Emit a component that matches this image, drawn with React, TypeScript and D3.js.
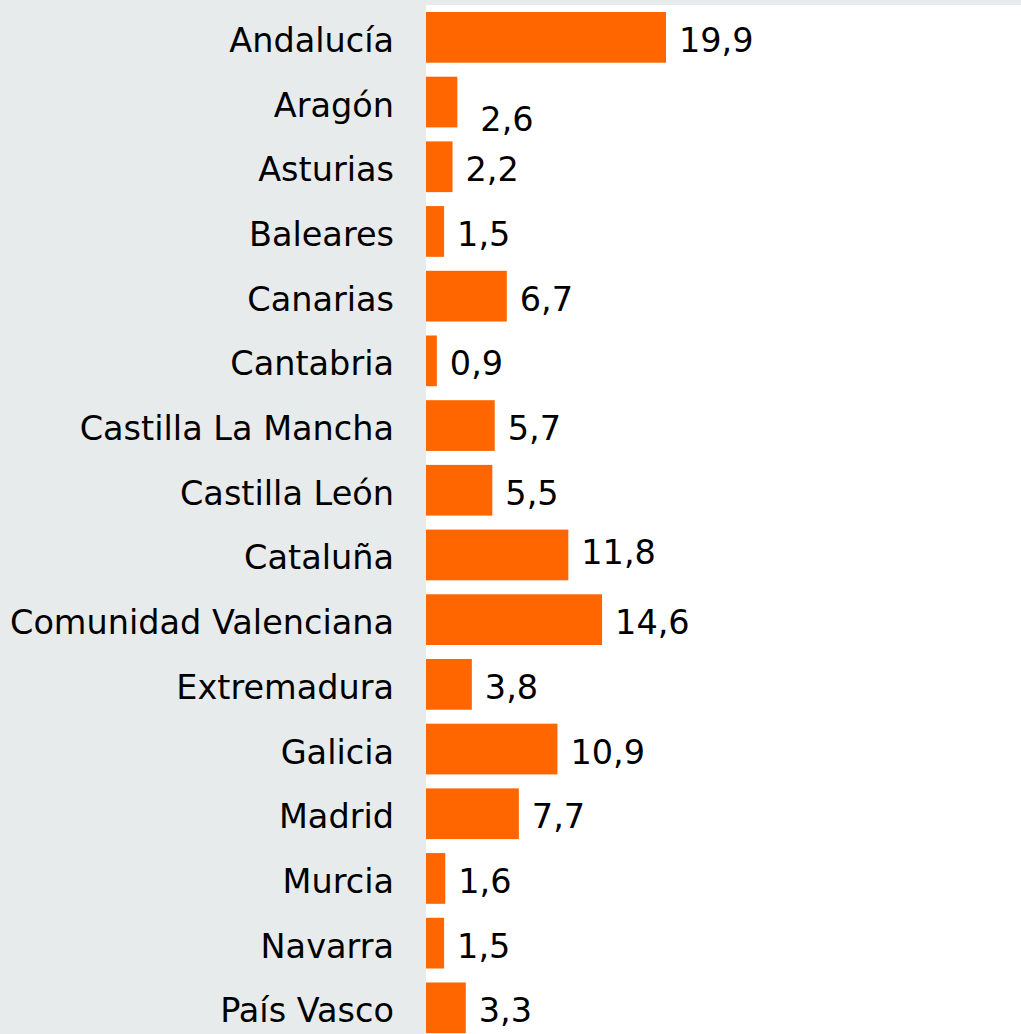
import React from 'react';
import * as d3 from 'd3';

const regions = [
  'Andalucía', 'Aragón', 'Asturias', 'Baleares', 'Canarias', 'Cantabria',
  'Castilla La Mancha', 'Castilla León', 'Cataluña', 'Comunidad Valenciana',
  'Extremadura', 'Galicia', 'Madrid', 'Murcia', 'Navarra', 'País Vasco',
];
const shares = [19.9, 2.6, 2.2, 1.5, 6.7, 0.9, 5.7, 5.5, 11.8, 14.6, 3.8, 10.9, 7.7, 1.6, 1.5, 3.3];

// the source chart nudges a couple of value labels off their bar
const labelNudge: Record<string, [number, number]> = {
  'Aragón': [10, 14],
  'Cataluña': [0, -5],
};

const W = 1021;
const H = 1034;
const plotLeft = 426;
const font = '"DejaVu Sans", Verdana, sans-serif';

export default function App() {
  const x = d3.scaleLinear().domain([0, 20]).range([plotLeft, plotLeft + 241.2]);
  const y = d3.scaleBand<string>()
    .domain(regions)
    .range([12, 1033.2])
    .paddingInner(0.216)
    .paddingOuter(0);
  const fmt = (v: number) => v.toFixed(1).replace('.', ',');

  return (
    <svg width={W} height={H} style={{ position: 'absolute', left: 0, top: 0 }}
      fontFamily={font}>
      <rect x={0} y={0} width={W} height={H} fill="#e8ebeb" />
      <rect x={plotLeft} y={5} width={W - plotLeft} height={H - 5} fill="#ffffff" />
      {regions.map((r, i) => {
        const cy = (y(r) as number) + y.bandwidth() / 2;
        const [dx, dy] = labelNudge[r] || [0, 0];
        return (
          <g key={r}>
            <text x={394} y={cy + 3} textAnchor="end" dominantBaseline="central"
              fontSize={33.5} fill="#000">{r}</text>
            <rect x={x(0)} y={y(r)} width={x(shares[i]) - x(0)} height={y.bandwidth()}
              fill="#ff6600" />
            <text x={x(shares[i]) + 13 + dx} y={cy + 3 + dy} dominantBaseline="central"
              fontSize={33.5} fill="#000">{fmt(shares[i])}</text>
          </g>
        );
      })}
    </svg>
  );
}
